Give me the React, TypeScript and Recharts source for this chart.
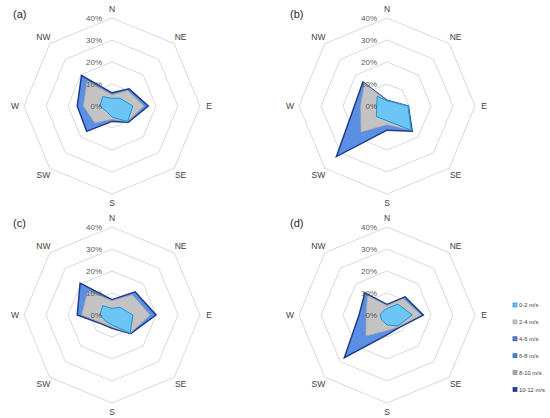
import { RadarChart, Radar, PolarGrid, PolarAngleAxis, PolarRadiusAxis } from "recharts"

const directions = ["N", "NE", "E", "SE", "S", "SW", "W", "NW"]
const radiusTicks = [0, 10, 20, 30, 40]
const speedBins = ["0-2 m/s", "2-4 m/s", "4-6 m/s", "6-8 m/s", "8-10 m/s", "10-12 m/s"]

// cumulative frequency (%) up to each speed, N -> NW clockwise
// above 6 m/s nothing adds visibly, so upper bins reuse the 4-6 totals
const a02 = [3.5, 5, 9.5, 10, 5, 3.5, 5.5, 6]
const a24 = [5, 10, 14.5, 10, 6, 11, 13, 16]
const a46 = [6, 11, 16.5, 10.5, 7, 16.3, 15.8, 19.6]

const b02 = [2.4, 2.7, 9.5, 15.6, 6.7, 6.8, 4.7, 6.3]
const b24 = [2.4, 2.7, 9.5, 15.6, 8.5, 16.7, 12, 14.5]
const b46 = [2.6, 2.9, 9.7, 16.2, 11, 32.5, 14.8, 15.5]

const c02 = [3, 5, 9.5, 11.7, 4.5, 4, 5.5, 6]
const c24 = [6.5, 13, 17.3, 11.7, 5.5, 5.5, 13.8, 15.5]
const c46 = [7, 14.9, 20, 12, 6, 6, 15.8, 20.5]

const d02 = [3, 7, 11.5, 7, 4.5, 3.3, 3.2, 2.5]
const d24 = [4.3, 10.5, 15.5, 7.5, 7, 13.5, 9.5, 12.5]
const d46 = [4.8, 11.6, 16.5, 8, 9, 27.4, 12.7, 14.2]

const fills = ["#6cc5f5", "#c3c3c3", "#5b8fe4", "#4a82d8", "#a6a6a6", "#22408f"]
const strokes = ["#1e93d6", "#a8a8a8", "#1f3c8c", "#2f63b8", "#8c8c8c", "#1a3380"]
const strokeWidths = [1, 0.8, 1.5, 0, 0, 0]

const FONT = '"Liberation Sans", Arial, sans-serif'
const CX = 112
const CY = 106
const W = 275
const H = 209

const AngleTick = (props: any) => {
  const { x, y, payload } = props
  const dx = x - CX
  const dy = y - CY
  const len = Math.hypot(dx, dy) || 1
  return (
    <text
      x={CX + (dx / len) * 97}
      y={CY + (dy / len) * 97}
      textAnchor="middle"
      dominantBaseline="central"
      fontSize={8.5}
      fontFamily={FONT}
      fill="#404040"
    >
      {payload.value}
    </text>
  )
}

const RadiusTick = (props: any) => {
  const { x, y, payload } = props
  return (
    <text x={x - 10} y={y} textAnchor="end" dominantBaseline="central" fontSize={8} fontFamily={FONT} fill="#595959">
      {payload.value}%
    </text>
  )
}

function RosePanel({ label, cum, left, top, labelX }: { label: string; cum: number[][]; left: number; top: number; labelX: number }) {
  const data = directions.map((dir, i) => {
    const row: any = { dir }
    cum.forEach((s, k) => (row["s" + k] = s[i]))
    return row
  })
  const order = [5, 4, 3, 2, 1, 0]

  return (
    <div style={{ position: "absolute", left, top, width: W, height: H }}>
      <RadarChart width={W} height={H} cx={CX} cy={CY} outerRadius={88} data={data} margin={{ top: 0, right: 0, bottom: 0, left: 0 }}>
        <PolarGrid gridType="polygon" radialLines={false} stroke="#d9d9d9" strokeWidth={1} />
        <PolarAngleAxis dataKey="dir" tick={AngleTick} axisLine={false} tickLine={false} />
        {order.map(k => (
          <Radar
            key={k}
            dataKey={"s" + k}
            name={speedBins[k]}
            fill={fills[k]}
            fillOpacity={1}
            stroke={strokeWidths[k] ? strokes[k] : "none"}
            strokeWidth={strokeWidths[k]}
            isAnimationActive={false}
          />
        ))}
        <PolarRadiusAxis angle={90} domain={[0, 40]} ticks={radiusTicks} tickCount={5} tick={RadiusTick} axisLine={false} tickLine={false} />
      </RadarChart>
      <div style={{ position: "absolute", left: labelX, top: 8, fontSize: 11, lineHeight: "12px", fontFamily: FONT, color: "#262626" }}>
        {label}
      </div>
    </div>
  )
}

function SpeedLegend() {
  return (
    <svg width={550} height={418} style={{ position: "absolute", left: 0, top: 0, pointerEvents: "none" }}>
      {speedBins.map((name, i) => {
        const y = 305 + i * 16.9
        return (
          <g key={name}>
            <rect x={513} y={y - 2} width={4} height={4} fill={fills[i]} stroke={strokes[i]} strokeWidth={0.7} />
            <text x={519} y={y} dominantBaseline="central" fontSize={5.8} fontFamily={FONT} fill="#404040">
              {name}
            </text>
          </g>
        )
      })}
    </svg>
  )
}

export default function App() {
  return (
    <div style={{ position: "absolute", left: 0, top: 0, width: 550, height: 418, background: "#fff", overflow: "hidden" }}>
      <RosePanel label="(a)" cum={[a02, a24, a46, a46, a46, a46]} left={0} top={0} labelX={13} />
      <RosePanel label="(b)" cum={[b02, b24, b46, b46, b46, b46]} left={275} top={0} labelX={15} />
      <RosePanel label="(c)" cum={[c02, c24, c46, c46, c46, c46]} left={0} top={209} labelX={13} />
      <RosePanel label="(d)" cum={[d02, d24, d46, d46, d46, d46]} left={275} top={209} labelX={15} />
      <SpeedLegend />
    </div>
  )
}
